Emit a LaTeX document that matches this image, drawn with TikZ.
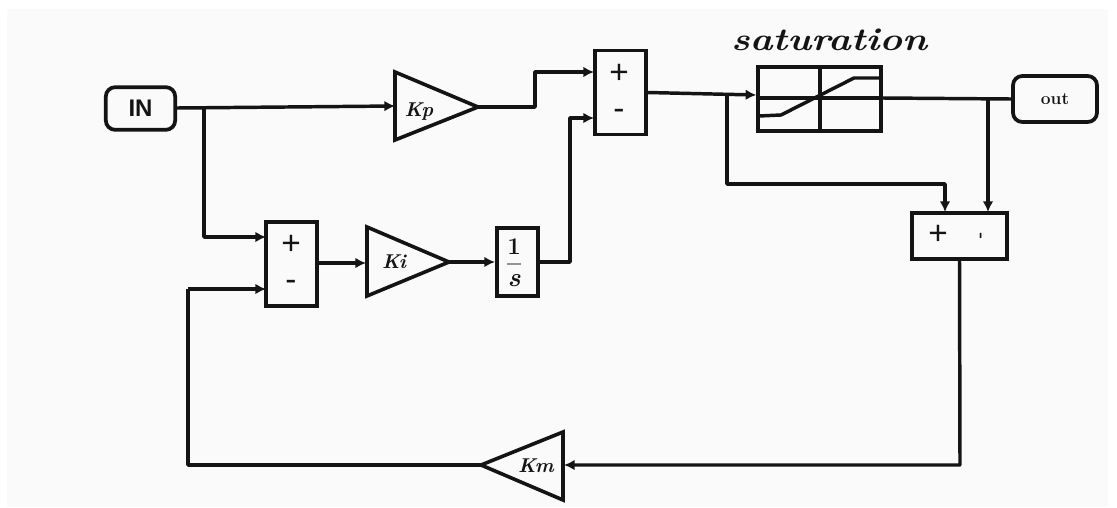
\documentclass[tikz,border=0pt]{standalone}
\usepackage{fontspec}
\setsansfont{Liberation Sans}
\usetikzlibrary{arrows.meta}
\definecolor{ink}{HTML}{141414}
\definecolor{paper}{HTML}{FAFAFA}
\tikzset{
  x=0.75pt,y=-0.75pt,
  blockbox/.style={draw=ink,line width=2.8pt,fill=none,inner sep=0pt,text=ink},
  termbox/.style={blockbox,rounded corners=7pt},
  gain/.style={draw=ink,line width=2.7pt,line join=miter},
  wire/.style={draw=ink,line width=2.6pt,line join=round},
  feed/.style={wire,-{Latex[length=8pt,width=8pt]}},
  lbl/.style={inner sep=0pt,text=ink},
  sign/.style={lbl,font=\fontsize{25}{25}\selectfont\sffamily},
  gaintext/.style={lbl,font=\fontsize{15}{15}\selectfont\bfseries\itshape},
}
\begin{document}
\begin{tikzpicture}
\useasboundingbox (0,0) rectangle (1117,507);
\fill[white] (0,0) rectangle (1117,507);
\fill[paper] (7,9) rectangle (1108,507);
% blocks
\node[termbox,minimum width=52pt,minimum height=32pt,font=\fontsize{18}{18}\selectfont\sffamily\bfseries] (in) at (140.5,108.5) {IN};
\node[termbox,minimum width=63pt,minimum height=34.5pt,font=\fontsize{13}{13}\selectfont\bfseries] (out) at (1055,99) {out};
\node[blockbox,minimum width=38pt,minimum height=63pt] (sum1) at (620.5,92.5) {};
\node[blockbox,minimum width=38pt,minimum height=63pt] (sum2) at (291.5,264) {};
\node[blockbox,minimum width=71pt,minimum height=34.5pt] (sum3) at (959.5,236) {};
\node[blockbox,minimum width=31pt,minimum height=51pt] (integ) at (517.5,262) {};
\node[blockbox,minimum width=92pt,minimum height=48pt] (sat) at (819.5,99) {};
% signs
\node[sign] (s1p) at (619,74) {+};
\node[sign] (s1m) at (619,114) {-};
\node[sign] (s2p) at (291,245) {+};
\node[sign] (s2m) at (291,285) {-};
\node[sign] (s3p) at (938,235) {+};
\node[sign,rotate=90,font=\fontsize{16}{16}\selectfont\sffamily] (s3m) at (983,236) {-};
% integrator label
\node[lbl,font=\fontsize{18}{18}\selectfont\bfseries] (one) at (514,247) {1};
\node[lbl,font=\fontsize{20}{20}\selectfont\bfseries\itshape] (ess) at (514,281) {s};
\draw[ink!45,line width=1pt] (507,264) -- (521,264);
% gains
\coordinate (kpin) at (395,106);
\coordinate (kpout) at (478,107);
\coordinate (kiin) at (367,262);
\coordinate (kiout) at (449,262);
\coordinate (kmin) at (564,465);
\coordinate (kmout) at (481,465);
\draw[gain] (395,72) -- (kpout) -- (395,140) -- cycle;
\draw[gain] (367,227) -- (kiout) -- (367,296) -- cycle;
\draw[gain] (563,432) -- (kmout) -- (563,500) -- cycle;
\node[gaintext] (kp) at (419,112) {Kp};
\node[gaintext] (ki) at (394,262) {Ki};
\node[gaintext] (km) at (536,466) {Km};
% saturation inner
\draw[wire] (820,67) -- (820,131);
\draw[wire] (758,98) -- (881,98);
\draw[wire] (759,116) -- (781,115) -- (854,78) -- (879,78);
\node[lbl,font=\fontsize{24}{24}\selectfont\bfseries\itshape,xscale=1.2] (sattxt) at (829,40) {saturation};
% ports and junctions
\coordinate (j1) at (204,108);
\coordinate (j2) at (727,93);
\coordinate (j3) at (988,99);
\coordinate (s1a) at (594,72);
\coordinate (s1b) at (594,118);
\coordinate (s2a) at (266,237);
\coordinate (s2b) at (266,289);
\coordinate (s3a) at (945,212);
\coordinate (s3b) at (988,212);
% connectors
\draw[feed] (in.east |- 0,108) -- (kpin);
\draw[feed] (j1) -- (204,237) -- (s2a);
\draw[feed] (kpout) -- (535,107) -- (535,72) -- (s1a);
\draw[feed] (integ.east) -- (570,262) -- (570,118) -- (s1b);
\draw[feed] (sum2.east |- 0,263) -- (366,263);
\draw[feed] (kiout) -- (integ.west);
\draw[feed] (sum1.east) -- (sat.west |- 0,95);
\draw[feed] (j2) -- (727,184) -- (945,184) -- (s3a);
\draw[wire] (sat.east |- 0,98) -- (out.west);
\draw[feed] (j3) -- (s3b);
\draw[feed] (sum3.south) -- (960,465) -- (kmin);
\draw[wire] (kmout) -- (188,465) -- (188,289);
\draw[feed] (188,289) -- (s2b);
\end{tikzpicture}
\end{document}
